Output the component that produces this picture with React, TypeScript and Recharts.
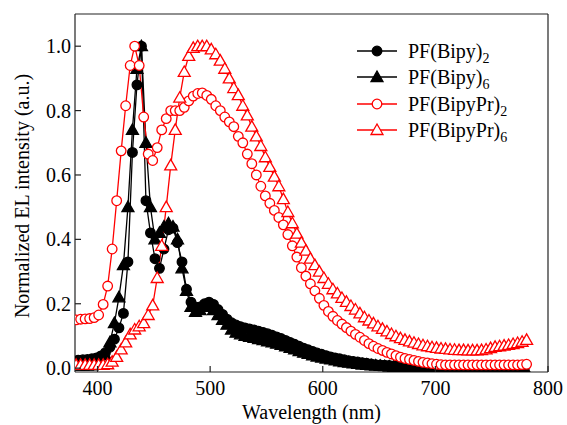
import {
  LineChart,
  Line,
  XAxis,
  YAxis,
  ReferenceLine,
} from "recharts";

// ─── data ─────────────────────────────────────────────────────────────────────

// wavelength grid of the two PF(Bipy) spectra (nm)
const wlBipy = [
  383, 387, 391, 395, 399, 403, 407, 411, 415, 419,
  423, 427, 431, 435, 439, 443, 447, 451, 455, 459,
  463, 467, 471, 475, 479, 483, 487, 491, 495, 499,
  503, 507, 511, 515, 519, 523, 527, 531, 535, 539,
  543, 547, 551, 555, 559, 563, 567, 571, 575, 579,
  583, 587, 591, 595, 599, 603, 607, 611, 615, 619,
  623, 627, 631, 635, 639, 643, 647, 651, 655, 659,
  663, 667, 671, 675, 679, 683, 687, 691, 695, 699,
  703, 707, 711, 715, 719, 723, 727, 731, 735, 739,
  743, 747, 751, 755, 759, 763, 767, 771, 775, 779,
];

const bipy2 = [
  0.025, 0.026, 0.027, 0.029, 0.032, 0.038, 0.048, 0.065, 0.09, 0.125,
  0.17, 0.33, 0.67, 0.88, 1.0, 0.52, 0.42, 0.34, 0.31, 0.37,
  0.43, 0.435, 0.39, 0.33, 0.245, 0.205, 0.19, 0.19, 0.2, 0.205,
  0.198, 0.182, 0.167, 0.152, 0.141, 0.134, 0.129, 0.125, 0.122, 0.119,
  0.115, 0.111, 0.107, 0.102, 0.097, 0.092, 0.086, 0.08, 0.074, 0.068,
  0.062, 0.057, 0.052, 0.047, 0.043, 0.039, 0.035, 0.032, 0.029, 0.026,
  0.023, 0.021, 0.019, 0.017, 0.015, 0.013, 0.011, 0.01, 0.009, 0.008,
  0.007, 0.006, 0.005, 0.004, 0.004, 0.003, 0.003, 0.002, 0.002, 0.001,
  0.001, 0.001, 0.001, 0.001, 0.001, 0.001, 0.001, 0.001, 0.001, 0.001,
  0.001, 0.001, 0.001, 0.001, 0.001, 0.001, 0.001, 0.001, 0.001, 0.001,
];

const bipy6 = [
  0.008, 0.008, 0.008, 0.009, 0.012, 0.02, 0.04, 0.08, 0.14, 0.22,
  0.32, 0.5, 0.74, 0.93, 1.0, 0.7, 0.5, 0.4, 0.42, 0.44,
  0.45, 0.44, 0.4, 0.31, 0.24, 0.19, 0.175, 0.18, 0.19, 0.19,
  0.18, 0.165, 0.15, 0.135, 0.12, 0.11, 0.105, 0.1, 0.097, 0.094,
  0.09, 0.087, 0.083, 0.08, 0.076, 0.072, 0.068, 0.063, 0.058, 0.053,
  0.048, 0.044, 0.04, 0.036, 0.033, 0.03, 0.027, 0.024, 0.021, 0.019,
  0.017, 0.015, 0.013, 0.011, 0.01, 0.009, 0.008, 0.007, 0.006, 0.005,
  0.004, 0.004, 0.003, 0.003, 0.002, 0.002, 0.001, 0.001, 0.001, 0,
  0, 0, 0, 0, 0, 0, 0, 0, 0, 0,
  0, 0, 0, 0, 0, 0, 0, 0, 0, 0,
];

// wavelength grid of the two PF(BipyPr) spectra (nm)
const wlBipyPr = [
  381, 385, 389, 393, 397, 401, 405, 409, 413, 417,
  421, 425, 429, 433, 437, 441, 445, 449, 453, 457,
  461, 465, 469, 473, 477, 481, 485, 489, 493, 497,
  501, 505, 509, 513, 517, 521, 525, 529, 533, 537,
  541, 545, 549, 553, 557, 561, 565, 569, 573, 577,
  581, 585, 589, 593, 597, 601, 605, 609, 613, 617,
  621, 625, 629, 633, 637, 641, 645, 649, 653, 657,
  661, 665, 669, 673, 677, 681, 685, 689, 693, 697,
  701, 705, 709, 713, 717, 721, 725, 729, 733, 737,
  741, 745, 749, 753, 757, 761, 765, 769, 773, 777,
  781,
];

const bipyPr2 = [
  0.15, 0.152, 0.153, 0.154, 0.157, 0.165, 0.198, 0.255, 0.37, 0.52,
  0.675, 0.815, 0.94, 1.0, 0.94, 0.78, 0.665, 0.645, 0.685, 0.74,
  0.775, 0.8, 0.8, 0.8, 0.81, 0.83, 0.845, 0.853, 0.855, 0.847,
  0.835, 0.815, 0.8, 0.78, 0.765, 0.75, 0.72, 0.7, 0.665, 0.635,
  0.6, 0.565, 0.535, 0.512, 0.49, 0.468, 0.445, 0.415, 0.38, 0.345,
  0.312, 0.286, 0.262, 0.24, 0.217, 0.195, 0.176, 0.161, 0.148, 0.137,
  0.126, 0.115, 0.105, 0.096, 0.086, 0.076, 0.068, 0.061, 0.055, 0.049,
  0.044, 0.039, 0.034, 0.03, 0.027, 0.024, 0.021, 0.018, 0.016, 0.014,
  0.012, 0.011, 0.01, 0.01, 0.01, 0.01, 0.01, 0.01, 0.01, 0.01,
  0.01, 0.01, 0.01, 0.01, 0.01, 0.01, 0.01, 0.01, 0.01, 0.011,
  0.012,
];

const bipyPr6 = [
  0.01, 0.01, 0.01, 0.01, 0.01, 0.01, 0.01, 0.012, 0.02, 0.035,
  0.058, 0.08, 0.105, 0.12, 0.13, 0.14, 0.165, 0.195, 0.28, 0.38,
  0.5, 0.63, 0.74, 0.84, 0.92, 0.97, 0.995, 1.0, 1.0, 1.0,
  0.99, 0.975, 0.955, 0.93, 0.9, 0.87, 0.848, 0.815, 0.785, 0.75,
  0.72, 0.69, 0.655, 0.625, 0.595, 0.565, 0.525, 0.485, 0.45, 0.418,
  0.39, 0.365, 0.34, 0.32, 0.3, 0.28, 0.262, 0.245, 0.232, 0.218,
  0.206, 0.193, 0.182, 0.17, 0.158, 0.148, 0.139, 0.13, 0.122, 0.114,
  0.106, 0.099, 0.093, 0.088, 0.083, 0.079, 0.075, 0.071, 0.068, 0.065,
  0.063, 0.061, 0.06, 0.058, 0.057, 0.056, 0.056, 0.055, 0.055, 0.055,
  0.056, 0.058, 0.062, 0.066, 0.068, 0.07, 0.072, 0.075, 0.078, 0.082,
  0.088,
];

const xTicks = [400, 500, 600, 700, 800];
const yTicks = [0, 0.2, 0.4, 0.6, 0.8, 1.0];

const bipyData = wlBipy.map((x, i) => ({ x, b2: bipy2[i], b6: bipy6[i] }));
const bipyPrData = wlBipyPr.map((x, i) => ({ x, r2: bipyPr2[i], r6: bipyPr6[i] }));

// ─── styling ──────────────────────────────────────────────────────────────────

const FONT = "Liberation Serif, Times New Roman, serif";
const AXIS = "#222";
const RED = "#ff0000";

type Shape = "circle" | "triangle";

function Marker({ cx, cy, shape, fill, stroke }: { cx: number; cy: number; shape: Shape; fill: string; stroke: string }) {
  if (cx == null || cy == null) return null;
  if (shape === "circle") {
    return <circle cx={cx} cy={cy} r={4.8} fill={fill} stroke={stroke} strokeWidth={1.3} />;
  }
  return (
    <polygon
      points={`${cx},${cy - 6} ${cx - 6},${cy + 4.5} ${cx + 6},${cy + 4.5}`}
      fill={fill}
      stroke={stroke}
      strokeWidth={1.3}
    />
  );
}

const dotOf = (shape: Shape, fill: string, stroke: string) => (p: any) => (
  <Marker key={p.index} cx={p.cx} cy={p.cy} shape={shape} fill={fill} stroke={stroke} />
);

// ─── ticks (inward) ───────────────────────────────────────────────────────────

const textStyle = { fontFamily: FONT, fontSize: 20, fill: "#000" };

function XTick({ x, y, payload }: any) {
  return (
    <g>
      <line x1={x} x2={x} y1={y} y2={y - 6} stroke={AXIS} strokeWidth={1.2} />
      <text x={x} y={y + 23} textAnchor="middle" style={textStyle}>
        {payload.value}
      </text>
    </g>
  );
}

function YTick({ x, y, payload }: any) {
  return (
    <g>
      <line x1={x} x2={x + 6} y1={y} y2={y} stroke={AXIS} strokeWidth={1.2} />
      <text x={x - 4} y={y + 7} textAnchor="end" style={textStyle}>
        {Number(payload.value).toFixed(1)}
      </text>
    </g>
  );
}

function XLabel({ viewBox }: any) {
  const { x, y, width } = viewBox;
  return (
    <text x={x + width / 2} y={y + 47} textAnchor="middle" style={textStyle}>
      Wavelength (nm)
    </text>
  );
}

function YLabel({ viewBox }: any) {
  const { y, height } = viewBox;
  const cx = 29;
  const cy = y + height / 2 + 3;
  return (
    <text x={cx} y={cy} textAnchor="middle" transform={`rotate(-90 ${cx} ${cy})`} style={textStyle}>
      Normalized EL intensity (a.u.)
    </text>
  );
}

// ─── legend ───────────────────────────────────────────────────────────────────

const legendItems = [
  { base: "PF(Bipy)", sub: "2", shape: "circle" as Shape, color: "#000", fill: "#000" },
  { base: "PF(Bipy)", sub: "6", shape: "triangle" as Shape, color: "#000", fill: "#000" },
  { base: "PF(BipyPr)", sub: "2", shape: "circle" as Shape, color: RED, fill: "#fff" },
  { base: "PF(BipyPr)", sub: "6", shape: "triangle" as Shape, color: RED, fill: "#fff" },
];

function LegendBox() {
  return (
    <div style={{ position: "absolute", top: 38, left: 355, fontFamily: FONT, fontSize: 20, color: "#000" }}>
      {legendItems.map((it) => (
        <div key={it.base + it.sub} style={{ display: "flex", alignItems: "center", height: 26.3 }}>
          <svg width={53} height={20} style={{ overflow: "visible" }}>
            <line x1={2} x2={42} y1={10} y2={10} stroke={it.color} strokeWidth={1.3} />
            <Marker cx={22} cy={10} shape={it.shape} fill={it.fill} stroke={it.color} />
          </svg>
          <span style={{ lineHeight: "20px", whiteSpace: "nowrap" }}>
            {it.base}
            <sub style={{ fontSize: 14, verticalAlign: "-5px", lineHeight: 0 }}>{it.sub}</sub>
          </span>
        </div>
      ))}
    </div>
  );
}

// ─── main component ───────────────────────────────────────────────────────────

export default function App() {
  return (
    <div style={{ position: "relative", width: 567, height: 425, background: "#fff" }}>
      <style>{`body{margin:0}`}</style>
      <LineChart width={567} height={425} margin={{ top: 14, right: 19, left: 0, bottom: 0 }}>
        <XAxis
          dataKey="x"
          type="number"
          domain={[380, 800]}
          ticks={xTicks}
          allowDataOverflow
          tickSize={0}
          tickMargin={0}
          tick={<XTick />}
          height={53}
          axisLine={{ stroke: AXIS, strokeWidth: 1.2 }}
          label={<XLabel />}
        />
        <YAxis
          type="number"
          domain={[-0.012, 1.1]}
          ticks={yTicks}
          allowDataOverflow
          tickSize={0}
          tickMargin={0}
          tick={<YTick />}
          width={75}
          axisLine={{ stroke: AXIS, strokeWidth: 1.2 }}
          label={<YLabel />}
        />
        <ReferenceLine y={1.1} stroke={AXIS} strokeWidth={1.2} />
        <ReferenceLine x={800} stroke={AXIS} strokeWidth={1.2} />

        <Line
          data={bipyData}
          dataKey="b2"
          stroke="#000"
          strokeWidth={1.3}
          dot={dotOf("circle", "#000", "#000")}
          activeDot={false}
          isAnimationActive={false}
        />
        <Line
          data={bipyData}
          dataKey="b6"
          stroke="#000"
          strokeWidth={1.3}
          dot={dotOf("triangle", "#000", "#000")}
          activeDot={false}
          isAnimationActive={false}
        />
        <Line
          data={bipyPrData}
          dataKey="r2"
          stroke={RED}
          strokeWidth={1.3}
          dot={dotOf("circle", "#fff", RED)}
          activeDot={false}
          isAnimationActive={false}
        />
        <Line
          data={bipyPrData}
          dataKey="r6"
          stroke={RED}
          strokeWidth={1.3}
          dot={dotOf("triangle", "#fff", RED)}
          activeDot={false}
          isAnimationActive={false}
        />
      </LineChart>
      <LegendBox />
    </div>
  );
}
